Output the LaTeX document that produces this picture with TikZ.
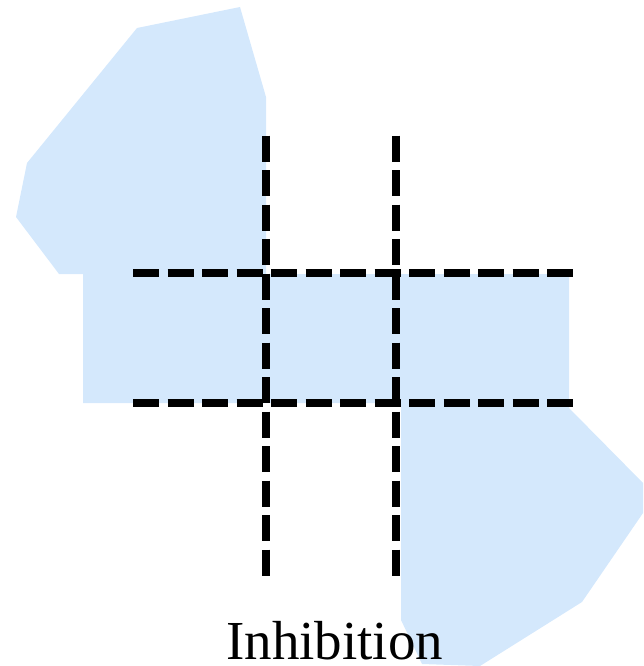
\documentclass[tikz,border=0pt]{standalone}
\usepackage{fontspec}
\setmainfont{Liberation Serif}
\definecolor{blobblue}{RGB}{212,232,252}
\begin{document}
\begin{tikzpicture}[x=1pt,y=-1pt,
  dashline/.style={line width=8pt,dash pattern=on 26pt off 8.5pt},
  blob/.style={fill=blobblue,draw=none}]
\useasboundingbox (0,0) rectangle (643,666);
\fill[blob] (137,28) -- (240,7) -- (266,97) -- (266,274) -- (569,274) -- (569,408)
  -- (643,483) -- (643,513) -- (582,602) -- (480,666) -- (422,664) -- (401,620)
  -- (401,403) -- (83,403) -- (83,274) -- (59,274) -- (16,217) -- (27,163) -- cycle;
\coordinate (v1t) at (266,135.5); \coordinate (v1b) at (266,577);
\coordinate (v2t) at (396,135.5); \coordinate (v2b) at (396,577);
\coordinate (h1l) at (133,273); \coordinate (h1r) at (573,273);
\coordinate (h2l) at (133,403); \coordinate (h2r) at (573,403);
\draw[dashline] (v1t) -- (v1b);
\draw[dashline] (v2t) -- (v2b);
\draw[dashline] (h1l) -- (h1r);
\draw[dashline] (h2l) -- (h2r);
\node[font=\fontsize{55}{60}\selectfont, anchor=base west, inner sep=0pt] (lbl) at (226,659) {Inhibition};
\end{tikzpicture}
\end{document}
